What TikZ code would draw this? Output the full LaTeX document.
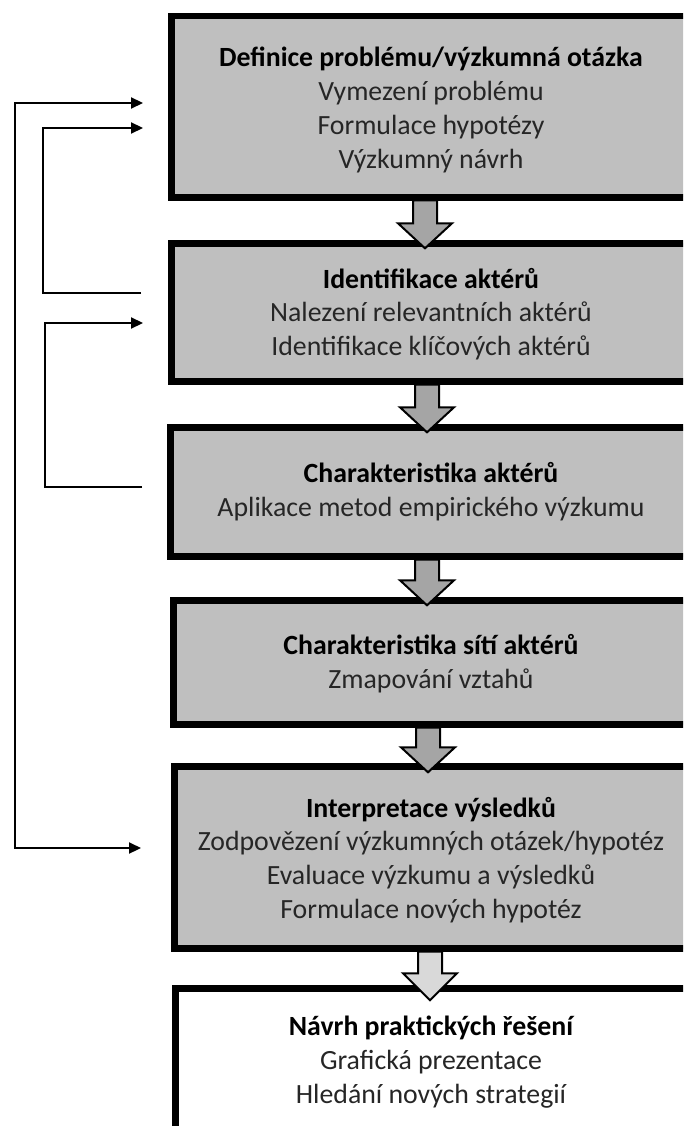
\documentclass[tikz,border=0pt]{standalone}
\usepackage{fontspec}
\setmainfont{Carlito}
\usetikzlibrary{arrows.meta,calc}
\definecolor{boxgray}{HTML}{BFBFBF}
\definecolor{arrgray}{HTML}{A5A5A5}
\definecolor{arrlight}{HTML}{D9D9D9}
\definecolor{bodytext}{HTML}{262626}
\newcommand\ttl[1]{\textbf{\color{black}#1}}
\begin{document}
\begin{tikzpicture}[x=1pt,y=-1pt,
  box/.style={draw=black,line width=6.6pt,fill=boxgray,outer sep=0pt,inner sep=0pt,anchor=north west},
  txt/.style={align=center,text=bodytext,inner sep=0pt,font=\fontsize{27.8}{33.8}\selectfont},
  barrow/.style={draw=black,line width=2pt,line join=miter},
  fb/.style={draw=black,line width=2.2pt},
  tip/.style={-{Triangle[length=12pt,width=11pt]}}]
\useasboundingbox (0,0) rectangle (683,1126);
\fill[white] (0,0) rectangle (683,1126);
\clip (0,0) rectangle (683,1126);

% boxes (stroke centre lines); they run past the right edge of the picture
\node[box,minimum width=560pt,minimum height=181.4pt] (b1) at (171.3,16) {};
\node[box,minimum width=560pt,minimum height=138.4pt] (b2) at (171.3,243.3) {};
\node[box,minimum width=560pt,minimum height=129.4pt] (b3) at (170.3,427.3) {};
\node[box,minimum width=560pt,minimum height=124.4pt] (b4) at (173.3,600.3) {};
\node[box,minimum width=560pt,minimum height=182.4pt] (b5) at (174.3,766.3) {};
\node[box,fill=white,minimum width=560pt,minimum height=143.4pt] (b6) at (175.3,988.3) {};

% texts, centred on x = 431
\node[txt] (t1) at (431,110)
  {\ttl{Definice problému/výzkumná otázka}\\Vymezení problému\\Formulace hypotézy\\Výzkumný návrh};
\node[txt] (t2) at (431,314)
  {\ttl{Identifikace aktérů}\\Nalezení relevantních aktérů\\Identifikace klíčových aktérů};
\node[txt] (t3) at (431,492)
  {\ttl{Charakteristika aktérů}\\Aplikace metod empirického výzkumu};
\node[txt] (t4) at (431,664)
  {\ttl{Charakteristika sítí aktérů}\\Zmapování vztahů};
\node[txt] (t5) at (431,860)
  {\ttl{Interpretace výsledků}\\Zodpovězení výzkumných otázek/hypotéz\\Evaluace výzkumu a výsledků\\Formulace nových hypotéz};
\node[txt] (t6) at (431,1062)
  {\ttl{Návrh praktických řešení}\\Grafická prezentace\\Hledání nových strategií};

% block arrows between the boxes
\foreach \from/\to/\col/\cx/\hs/\tp in {b1/b2/arrgray/425/-20/5, b2/b3/arrgray/427/-20/5,
    b3/b4/arrgray/427/-20/5, b4/b5/arrgray/428/-19/6, b5/b6/arrlight/430/-15/12}{
  \draw[barrow,fill=\col]
    ($(\from.south west -| \cx-12,0)+(0,3)$) -- ($(\to.north west -| \cx-12,0)+(0,\hs)$)
    -- ($(\to.north west -| \cx-27,0)+(0,\hs)$) -- ($(\to.north west -| \cx,0)+(0,\tp)$)
    -- ($(\to.north west -| \cx+27,0)+(0,\hs)$) -- ($(\to.north west -| \cx+12,0)+(0,\hs)$)
    -- ($(\from.south west -| \cx+12,0)+(0,3)$) -- cycle;
}

% feedback connectors
\coordinate (f1a) at (143,103);
\coordinate (f1b) at (15,103);
\coordinate (f1c) at (15,848);
\coordinate (f1d) at (141,848);
\draw[fb,{Triangle[length=12pt,width=11pt]}-{Triangle[length=12pt,width=11pt]}]
  (f1a) -- (f1b) -- (f1c) -- (f1d);

\coordinate (f2a) at (141,293);
\coordinate (f2b) at (43,293);
\coordinate (f2c) at (43,128);
\coordinate (f2d) at (143,128);
\draw[fb,tip] (f2a) -- (f2b) -- (f2c) -- (f2d);

\coordinate (f3a) at (142,487);
\coordinate (f3b) at (45,487);
\coordinate (f3c) at (45,323);
\coordinate (f3d) at (143,323);
\draw[fb,tip] (f3a) -- (f3b) -- (f3c) -- (f3d);
\end{tikzpicture}
\end{document}
